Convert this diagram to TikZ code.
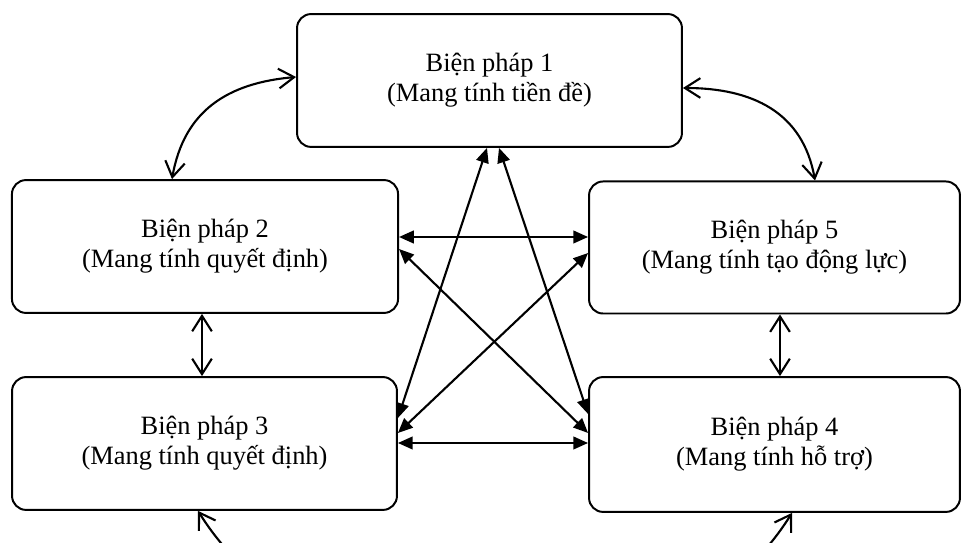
\documentclass[tikz,border=0pt]{standalone}
\usepackage{fontspec}
\setmainfont{Liberation Serif}
\usetikzlibrary{arrows.meta}

\begin{document}
\begin{tikzpicture}[x=0.025cm,y=0.025cm]

        \useasboundingbox (0,0) rectangle (962,-543);
        \clip (0,0) rectangle (962,-543);

        \begin{scope}[every node/.style={draw,rounded corners=0.35cm,line width=1.4pt,align=center,
            font=\fontsize{18.8}{21.3}\selectfont,minimum height=3.32cm}]
          \node[minimum width=9.62cm] (1) at (489.5,-80.5)  {Biện pháp 1\\(Mang tính tiền đề)};
          \node[minimum width=9.65cm] (2) at (205,-246.5)   {Biện pháp 2\\(Mang tính quyết định)};
          \node[minimum width=9.62cm] (3) at (204.5,-443.5) {Biện pháp 3\\(Mang tính quyết định)};
          \node[minimum width=9.27cm,minimum height=3.37cm] (4) at (774.5,-444.5) {Biện pháp 4\\(Mang tính hỗ trợ)};
          \node[minimum width=9.27cm,minimum height=3.30cm] (5) at (774.5,-247.5) {Biện pháp 5\\(Mang tính tạo động lực)};
        \end{scope}

        \begin{scope}[line width=1.5pt]

          \begin{scope}[every edge/.style={draw,{Triangle[length=10.5pt,width=9pt]}-{Triangle[length=10.5pt,width=9pt]}}]
            \path (2.east |- 0,-237) edge (5.west |- 0,-237);
            \path (3.east |- 0,-443) edge (4.west |- 0,-443);
            \path (1.south -| 487,0) edge (3.east |- 0,-418);
            \path (1.south -| 499,0) edge (4.west |- 0,-414);
            \path (2.east |- 0,-249) edge (4.west |- 0,-433);
            \path (5.west |- 0,-253) edge (3.east |- 0,-433);
          \end{scope}

          \begin{scope}[every edge/.style={draw,{Straight Barb[length=11pt,width=14pt]}-{Straight Barb[length=11pt,width=14pt]}}]
            \path (2.south -| 202,0) edge (3.north -| 202,0);
            \path (5.south -| 780,0) edge (4.north -| 780,0);
            \path (1.west |- 0,-77) edge[out=185,in=80,looseness=1.1] (2.north -| 172,0);
            \path (1.east |- 0,-88) edge[out=0,in=100,looseness=1.1] (5.north -| 815,0);
            \path (3.south -| 198,0) edge[out=-58,in=-122] (4.south -| 792,0);
          \end{scope}
        \end{scope}

      \end{tikzpicture}
\end{document}
